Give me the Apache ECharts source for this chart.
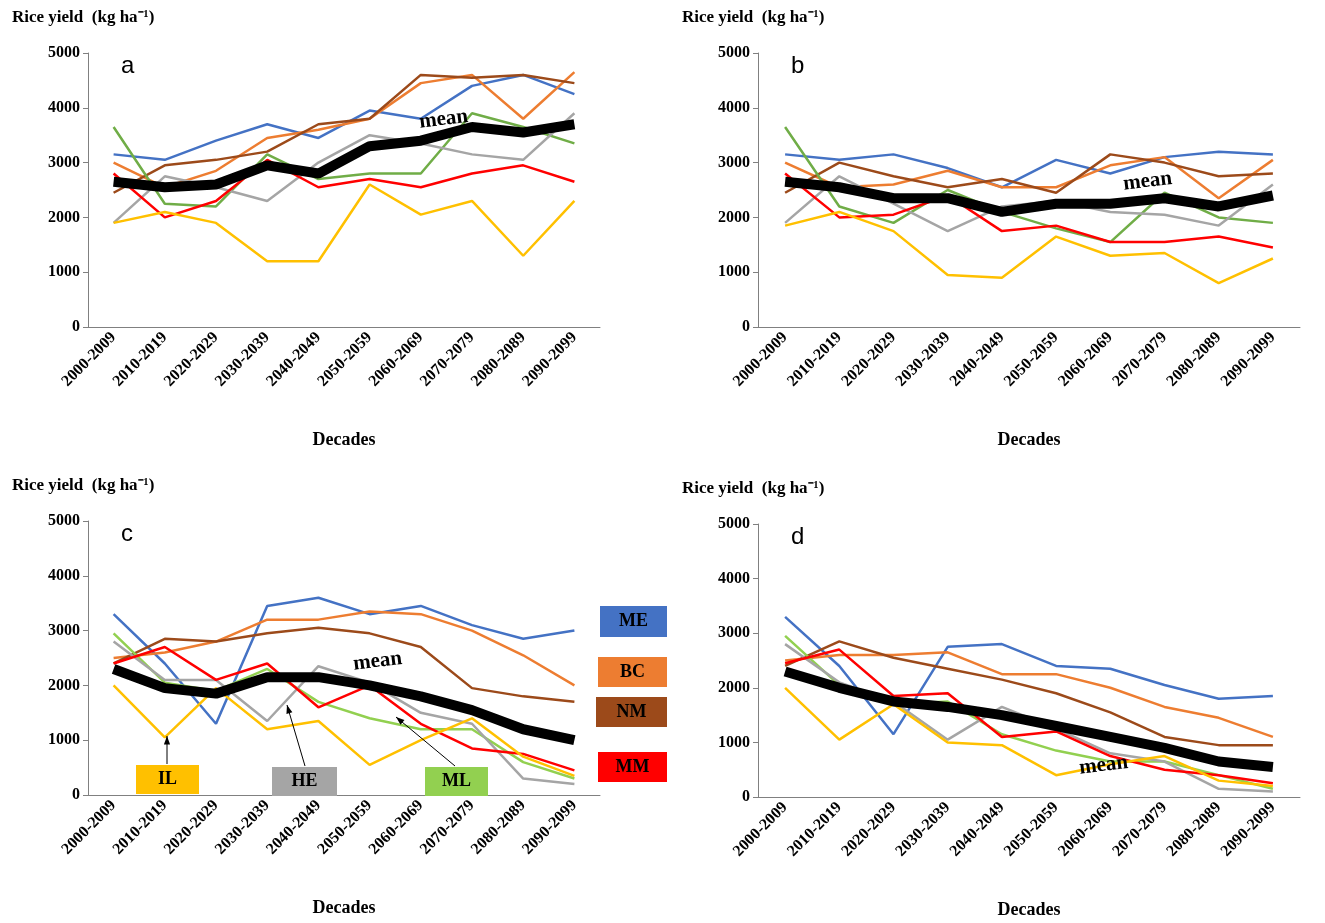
<!DOCTYPE html>
<html>
<head>
<meta charset="utf-8">
<script src="https://cdn.jsdelivr.net/npm/echarts@6/dist/echarts.min.js"></script>
<style>html,body{margin:0;padding:0;background:#fff}#chart{width:1325px;height:923px}</style>
</head>
<body>
<div id="chart"></div>
<script>
var decades = ['2000-2009','2010-2019','2020-2029','2030-2039','2040-2049','2050-2059','2060-2069','2070-2079','2080-2089','2090-2099'];
var seriesNames = ['ME','BC','NM','ML','HE','MM','IL','mean'];

// panel a
var aME = [3150,3050,3400,3700,3450,3950,3800,4400,4600,4250];
var aBC = [3000,2550,2850,3450,3600,3800,4450,4600,3800,4650];
var aNM = [2450,2950,3050,3200,3700,3800,4600,4550,4600,4450];
var aML = [3650,2250,2200,3150,2700,2800,2800,3900,3650,3350];
var aHE = [1900,2750,2550,2300,3000,3500,3350,3150,3050,3900];
var aMM = [2800,2000,2300,3050,2550,2700,2550,2800,2950,2650];
var aIL = [1900,2100,1900,1200,1200,2600,2050,2300,1300,2300];
var aMean = [2650,2550,2600,2950,2800,3300,3400,3650,3550,3700];
// panel b
var bME = [3150,3050,3150,2900,2550,3050,2800,3100,3200,3150];
var bBC = [3000,2550,2600,2850,2550,2550,2950,3100,2350,3050];
var bNM = [2450,3000,2750,2550,2700,2450,3150,3000,2750,2800];
var bML = [3650,2200,1900,2500,2100,1800,1550,2450,2000,1900];
var bHE = [1900,2750,2250,1750,2200,2300,2100,2050,1850,2600];
var bMM = [2800,2000,2050,2400,1750,1850,1550,1550,1650,1450];
var bIL = [1850,2100,1750,950,900,1650,1300,1350,800,1250];
var bMean = [2650,2550,2350,2350,2100,2250,2250,2350,2200,2400];
// panel c
var cME = [3300,2400,1300,3450,3600,3300,3450,3100,2850,3000];
var cBC = [2500,2600,2800,3200,3200,3350,3300,3000,2550,2000];
var cNM = [2400,2850,2800,2950,3050,2950,2700,1950,1800,1700];
var cML = [2950,2050,1900,2300,1700,1400,1200,1200,600,300];
var cHE = [2800,2100,2100,1350,2350,2050,1500,1300,300,200];
var cMM = [2400,2700,2100,2400,1600,2000,1300,850,750,450];
var cIL = [2000,1050,1950,1200,1350,550,1000,1400,700,350];
var cMean = [2300,1950,1850,2150,2150,2000,1800,1550,1200,1000];
// panel d
var dME = [3300,2400,1150,2750,2800,2400,2350,2050,1800,1850];
var dBC = [2500,2600,2600,2650,2250,2250,2000,1650,1450,1100];
var dNM = [2400,2850,2550,2350,2150,1900,1550,1100,950,950];
var dML = [2950,2050,1700,1750,1150,850,650,650,400,150];
var dHE = [2800,2100,1750,1050,1650,1250,800,650,150,100];
var dMM = [2450,2700,1850,1900,1100,1200,750,500,400,250];
var dIL = [2000,1050,1700,1000,950,400,600,750,300,200];
var dMean = [2300,2000,1750,1650,1500,1300,1100,900,650,550];

var panels = [
  {data:[aME,aBC,aNM,aML,aHE,aMM,aIL,aMean], grid:{left:88,top:53,width:512,height:274}, green:'#70AD47'},
  {data:[bME,bBC,bNM,bML,bHE,bMM,bIL,bMean], grid:{left:758,top:53,width:542,height:274}, green:'#70AD47'},
  {data:[cME,cBC,cNM,cML,cHE,cMM,cIL,cMean], grid:{left:88,top:521,width:512,height:274}, green:'#92D050'},
  {data:[dME,dBC,dNM,dML,dHE,dMM,dIL,dMean], grid:{left:758,top:524,width:542,height:273}, green:'#92D050'}
];
var font = 'Liberation Serif';

var grids = [], xAxes = [], yAxes = [], series = [], graphics = [];
panels.forEach(function (p, i) {
  var colors = ['#4472C4','#ED7D31','#9C4A1A',p.green,'#A5A5A5','#FF0000','#FFC000','#000000'];
  grids.push(p.grid);
  xAxes.push({type:'category', gridIndex:i, data:decades, boundaryGap:true,
    name:'Decades', nameLocation:'middle', nameGap:104,
    nameTextStyle:{fontFamily:font, fontWeight:'bold', fontSize:18, color:'#000'},
    axisLine:{lineStyle:{color:'#808080'}}, axisTick:{show:false},
    axisLabel:{rotate:45, interval:0, fontFamily:font, fontWeight:'bold', fontSize:16, color:'#000', margin:8}});
  yAxes.push({type:'value', gridIndex:i, min:0, max:5000, interval:1000,
    splitLine:{show:false},
    axisLine:{show:true, lineStyle:{color:'#808080'}}, axisTick:{show:true, length:5, lineStyle:{color:'#808080'}},
    axisLabel:{fontFamily:font, fontWeight:'bold', fontSize:16, color:'#000', formatter:function (v) { return String(v); }}});
  seriesNames.forEach(function (n, k) {
    series.push({name:n, type:'line', xAxisIndex:i, yAxisIndex:i, data:p.data[k],
      symbol:'none', z: k === 7 ? 10 : 2,
      lineStyle:{color:colors[k], width: k === 7 ? 10 : 2.5}});
  });
  graphics.push({type:'text', left:p.grid.left - 76, top:p.grid.top - 44,
    style:{text:'Rice yield  (kg ha⁻¹)', font:'bold 17px "Liberation Serif"', fill:'#000'}});
  graphics.push({type:'text', left:p.grid.left + 33, top:p.grid.top + 1,
    style:{text:'abcd'[i], font:'24px "Liberation Sans"', fill:'#000'}});
});

var meanPos = [[418,106],[1122,168],[352,648],[1078,752]];
meanPos.forEach(function (m) {
  graphics.push({type:'text', left:m[0], top:m[1], rotation:0.12, z:100,
    style:{text:'mean', font:'bold 21px "Liberation Serif"', fill:'#000'}});
});

function box(x, y, w, h, color, label) {
  graphics.push({type:'rect', z:100, shape:{x:x, y:y, width:w, height:h}, style:{fill:color}});
  graphics.push({type:'text', z:101, x:x + w / 2, y:y + h / 2,
    style:{text:label, font:'bold 18px "Liberation Serif"', fill:'#000', align:'center', verticalAlign:'middle'}});
}
box(600,606,67,31,'#4472C4','ME');
box(598,657,69,30,'#ED7D31','BC');
box(596,697,71,30,'#9C4A1A','NM');
box(598,752,69,30,'#FF0000','MM');
box(136,765,63,29,'#FFC000','IL');
box(272,767,65,29,'#A5A5A5','HE');
box(425,767,63,29,'#92D050','ML');

function arrow(x1, y1, x2, y2) {
  graphics.push({type:'line', z:100, shape:{x1:x1, y1:y1, x2:x2, y2:y2}, style:{stroke:'#000', lineWidth:1}});
  var a = Math.atan2(y2 - y1, x2 - x1), L = 9;
  graphics.push({type:'polygon', z:100, shape:{points:[[x2, y2],
    [x2 - L * Math.cos(a - 0.35), y2 - L * Math.sin(a - 0.35)],
    [x2 - L * Math.cos(a + 0.35), y2 - L * Math.sin(a + 0.35)]]}, style:{fill:'#000'}});
}
arrow(167,764,167,736);
arrow(305,766,287,705);
arrow(455,766,396,717);

var chart = echarts.init(document.getElementById('chart'));
chart.setOption({
  animation:false,
  grid:grids, xAxis:xAxes, yAxis:yAxes, series:series, graphic:graphics
});
</script>
</body>
</html>
